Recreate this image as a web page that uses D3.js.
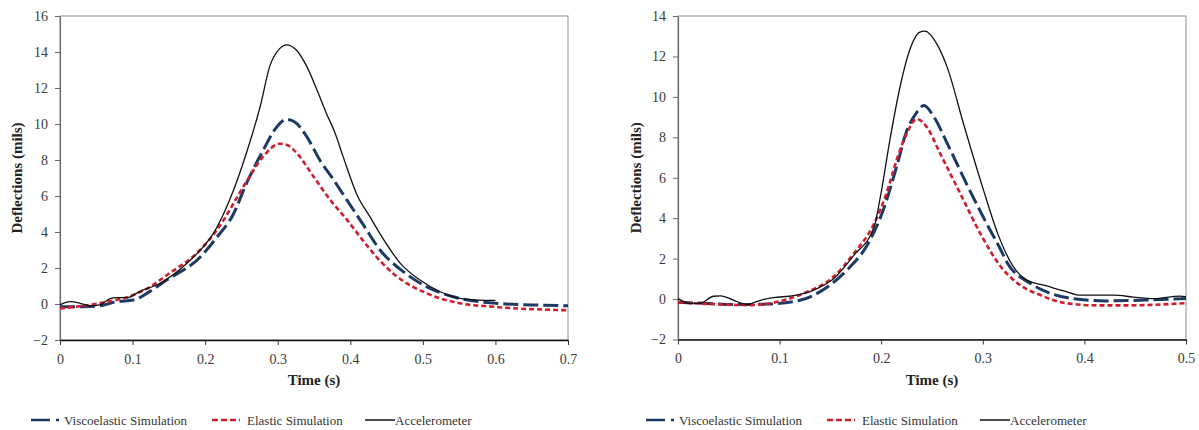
<!DOCTYPE html>
<html>
<head>
<meta charset="utf-8">
<script src="https://cdn.jsdelivr.net/npm/d3@7"></script>
<style>
  body { margin: 0; background: #fff; }
  svg { display: block; }
  svg text { font-family: "Liberation Serif", "Times New Roman", Times, "DejaVu Serif", serif; }
</style>
</head>
<body>
<svg id="chart" width="1199" height="430"></svg>
<script>
// ---- data ----
const seriesNames = ["Viscoelastic Simulation", "Elastic Simulation", "Accelerometer"];

// left panel (0 - 0.7 s)
const leftViscoT = [0, 0.03, 0.055, 0.078, 0.101, 0.124, 0.147, 0.193, 0.216, 0.239, 0.257, 0.28, 0.299, 0.312, 0.324, 0.34, 0.358, 0.377, 0.395, 0.418, 0.441, 0.473, 0.505, 0.542, 0.597, 0.65, 0.7];
const leftViscoV = [-0.15, -0.15, -0.1, 0.13, 0.22, 0.7, 1.33, 2.6, 3.7, 5.0, 6.7, 8.55, 9.85, 10.26, 10.1, 9.3, 8.0, 6.9, 5.8, 4.4, 3.0, 1.8, 0.96, 0.4, 0.05, -0.05, -0.1];
const leftElasticT = [0, 0.055, 0.101, 0.124, 0.147, 0.193, 0.216, 0.257, 0.28, 0.303, 0.312, 0.326, 0.349, 0.372, 0.395, 0.418, 0.441, 0.459, 0.505, 0.551, 0.597, 0.63, 0.66, 0.7];
const leftElasticV = [-0.25, 0.05, 0.5, 0.95, 1.6, 3.0, 4.1, 6.8, 8.2, 8.9, 8.85, 8.4, 7.1, 5.8, 4.7, 3.5, 2.4, 1.7, 0.6, 0.04, -0.15, -0.25, -0.3, -0.35];
const leftAccelT = [0, 0.014, 0.028, 0.041, 0.055, 0.069, 0.078, 0.092, 0.11, 0.138, 0.175, 0.202, 0.211, 0.234, 0.257, 0.276, 0.289, 0.303, 0.312, 0.326, 0.34, 0.354, 0.367, 0.379, 0.39, 0.41, 0.427, 0.441, 0.469, 0.496, 0.524, 0.551, 0.575, 0.6];
const leftAccelV = [-0.05, 0.13, 0.04, -0.1, -0.05, 0.3, 0.35, 0.35, 0.7, 1.15, 2.26, 3.4, 3.9, 5.8, 8.4, 11.0, 13.2, 14.2, 14.4, 14.1, 13.2, 11.9, 10.6, 9.5, 8.2, 6.0, 4.85, 3.9, 2.26, 1.33, 0.68, 0.31, 0.22, 0.2];
const leftYTicks = [-2, 0, 2, 4, 6, 8, 10, 12, 14, 16];
const leftXTicks = [0, 0.1, 0.2, 0.3, 0.4, 0.5, 0.6, 0.7];
const leftXLabels = ["0", "0.1", "0.2", "0.3", "0.4", "0.5", "0.6", "0.7"];

// right panel (0 - 0.5 s)
const rightViscoT = [0, 0.03, 0.055, 0.088, 0.12, 0.147, 0.166, 0.186, 0.202, 0.216, 0.225, 0.234, 0.242, 0.252, 0.265, 0.284, 0.301, 0.317, 0.324, 0.347, 0.363, 0.389, 0.422, 0.461, 0.5];
const rightViscoV = [-0.16, -0.22, -0.27, -0.25, -0.06, 0.6, 1.42, 2.65, 4.4, 6.7, 8.3, 9.16, 9.57, 9.0, 7.7, 5.7, 4.0, 2.5, 1.8, 0.77, 0.35, 0.02, -0.09, -0.05, 0.03];
const rightElasticT = [0, 0.035, 0.071, 0.104, 0.127, 0.153, 0.173, 0.193, 0.205, 0.216, 0.225, 0.235, 0.245, 0.258, 0.278, 0.298, 0.317, 0.337, 0.357, 0.38, 0.412, 0.445, 0.5];
const rightElasticV = [-0.16, -0.25, -0.3, -0.06, 0.35, 1.1, 2.25, 3.73, 5.2, 7.0, 8.17, 8.9, 8.5, 7.2, 5.2, 3.2, 1.65, 0.68, 0.19, -0.19, -0.31, -0.31, -0.2];
const rightAccelT = [0, 0.012, 0.022, 0.035, 0.042, 0.055, 0.068, 0.081, 0.094, 0.114, 0.133, 0.153, 0.173, 0.193, 0.199, 0.209, 0.219, 0.229, 0.238, 0.243, 0.255, 0.265, 0.281, 0.3, 0.315, 0.33, 0.343, 0.363, 0.38, 0.396, 0.429, 0.448, 0.468, 0.494, 0.5];
const rightAccelV = [0.02, -0.22, -0.2, 0.14, 0.16, -0.06, -0.27, -0.06, 0.07, 0.17, 0.43, 1.0, 2.16, 3.56, 5.0, 8.0, 10.6, 12.45, 13.2, 13.25, 12.6, 11.46, 8.67, 5.5, 3.2, 1.6, 0.95, 0.65, 0.4, 0.19, 0.19, 0.1, 0.02, 0.15, 0.12];
const rightYTicks = [-2, 0, 2, 4, 6, 8, 10, 12, 14];
const rightXTicks = [0, 0.1, 0.2, 0.3, 0.4, 0.5];
const rightXLabels = ["0", "0.1", "0.2", "0.3", "0.4", "0.5"];

const svg = d3.select("#chart");
const FONT = '"Liberation Serif", "Times New Roman", Times, "DejaVu Serif", serif';

// styles for each series
const styles = [
  { color: "#1d3a64", width: 3, dash: "15,5" },
  { color: "#cf1f2e", width: 2.6, dash: "5,3" },
  { color: "#111111", width: 1.3, dash: null }
];

function pairs(ts, vs) { return ts.map((t, i) => [t, vs[i]]); }

function drawPanel(p) {
  const x = d3.scaleLinear().domain([0, p.xMax]).range([p.left, p.right]);
  const y = d3.scaleLinear().domain([-2, p.yMax]).range([p.bottom, p.top]);
  const g = svg.append("g").attr("font-family", FONT);

  // plot area frame
  g.append("rect")
    .attr("x", p.left).attr("y", p.top)
    .attr("width", p.right - p.left).attr("height", p.bottom - p.top)
    .attr("fill", "none").attr("stroke", "#8e8e8e").attr("stroke-width", 1);

  // y axis
  const ya = g.append("g").attr("transform", `translate(${p.left},0)`)
    .call(d3.axisLeft(y).tickValues(p.yTicks).tickSize(5).tickSizeOuter(0).tickPadding(7));
  ya.attr("font-family", FONT).attr("font-size", 14);
  ya.select(".domain").attr("stroke", "#6a6a6a").attr("stroke-width", 1.2);
  ya.selectAll(".tick line").attr("stroke", "#6a6a6a");
  ya.selectAll(".tick text").attr("fill", "#3a3a3a");

  // x axis
  const xa = g.append("g").attr("transform", `translate(0,${p.bottom})`)
    .call(d3.axisBottom(x).tickValues(p.xTicks).tickSize(5).tickSizeOuter(0).tickPadding(9)
      .tickFormat((d, i) => p.xLabels[i]));
  xa.attr("font-family", FONT).attr("font-size", 14);
  xa.select(".domain").attr("stroke", "#111").attr("stroke-width", 1.6);
  xa.selectAll(".tick line").attr("stroke", "#333");
  xa.selectAll(".tick text").attr("fill", "#3a3a3a");

  // series lines
  const line = d3.line().x(d => x(d[0])).y(d => y(d[1])).curve(d3.curveMonotoneX);
  p.series.forEach((s, i) => {
    const st = styles[i];
    g.append("path")
      .datum(pairs(s.t, s.v))
      .attr("d", line)
      .attr("fill", "none")
      .attr("stroke", st.color)
      .attr("stroke-width", st.width)
      .attr("stroke-dasharray", st.dash)
      .attr("stroke-linejoin", "round");
  });

  // axis titles
  g.append("text")
    .attr("transform", `translate(${p.yTitleX},${(p.top + p.bottom) / 2}) rotate(-90)`)
    .attr("text-anchor", "middle").attr("dy", "0.35em")
    .attr("font-size", 15).attr("font-weight", "bold").attr("fill", "#222")
    .text("Deflections (mils)");
  g.append("text")
    .attr("x", (p.left + p.right) / 2).attr("y", 385)
    .attr("text-anchor", "middle")
    .attr("font-size", 15).attr("font-weight", "bold").attr("fill", "#222")
    .text("Time (s)");

  // legend
  const lx = p.legendX, ly = 420;
  const leg = g.append("g");
  const sampleX = [[0, 29], [181, 209], [334, 364]];
  const textX = [33, 216, 364];
  const legDash = ["19,6,3,30", "6,3", null];
  seriesNames.forEach((name, i) => {
    leg.append("line")
      .attr("x1", lx + sampleX[i][0]).attr("x2", lx + sampleX[i][1])
      .attr("y1", ly).attr("y2", ly)
      .attr("stroke", styles[i].color)
      .attr("stroke-width", i === 2 ? 1.5 : 2.6)
      .attr("stroke-dasharray", legDash[i]);
    leg.append("text")
      .attr("x", lx + textX[i]).attr("y", ly + 5)
      .attr("font-size", 13).attr("fill", "#333")
      .text(name);
  });
}

drawPanel({
  left: 60, right: 568, top: 16, bottom: 340, xMax: 0.7, yMax: 16,
  yTicks: leftYTicks, xTicks: leftXTicks, xLabels: leftXLabels,
  yTitleX: 17, legendX: 31,
  series: [
    { t: leftViscoT, v: leftViscoV },
    { t: leftElasticT, v: leftElasticV },
    { t: leftAccelT, v: leftAccelV }
  ]
});

drawPanel({
  left: 678, right: 1186, top: 16, bottom: 339.5, xMax: 0.5, yMax: 14,
  yTicks: rightYTicks, xTicks: rightXTicks, xLabels: rightXLabels,
  yTitleX: 636, legendX: 646,
  series: [
    { t: rightViscoT, v: rightViscoV },
    { t: rightElasticT, v: rightElasticV },
    { t: rightAccelT, v: rightAccelV }
  ]
});
</script>
</body>
</html>
